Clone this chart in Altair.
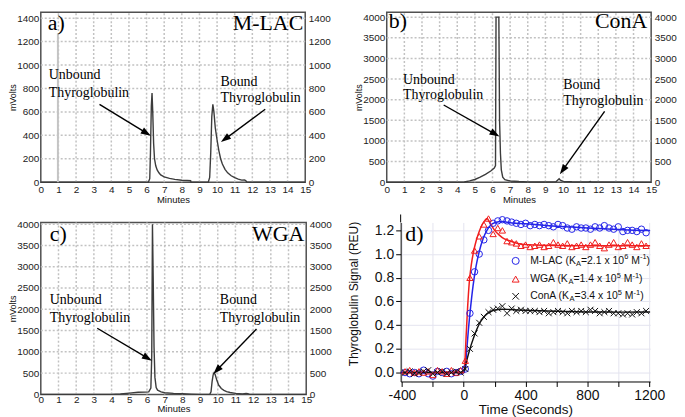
import math
import altair as alt
import pandas as pd

SANS = "Liberation Sans"
SERIF = "Liberation Serif"

# ---------------- chromatogram traces (minutes, mVolts) ----------------
mlac_min = [0, 6.1, 6.18, 6.22, 6.27, 6.31, 6.35, 6.4, 6.45, 6.52, 6.6, 6.7, 6.8, 7.0, 7.3, 7.6, 8.0, 8.3, 8.5, 8.52,
            9.5, 9.58, 9.64, 9.7, 9.76, 9.82, 9.9, 10.0, 10.1, 10.2, 10.3, 10.45, 10.6, 10.8, 11.0, 11.2, 11.4,
            11.55, 11.62, 11.7, 15]
mlac_mv = [0, 0, 30, 250, 650, 760, 600, 330, 200, 140, 105, 80, 62, 45, 32, 24, 17, 14, 12, 0,
           0, 40, 250, 560, 665, 600, 460, 360, 270, 200, 155, 110, 80, 55, 38, 26, 18,
           20, 14, 0, 0]

cona_min = [0, 4.0, 4.4, 4.7, 5.0, 5.3, 5.6, 5.9, 6.1, 6.17, 6.2, 6.36, 6.4, 6.45, 6.5, 6.58, 6.7, 7.0, 7.5, 8.0,
            9.0, 9.6, 9.72, 9.78, 9.85, 10.0, 10.5, 11.0, 11.45, 11.55, 11.65, 15]
cona_mv = [0, 0, 5, 30, 65, 120, 190, 270, 340, 400, 4000, 4000, 1500, 700, 300, 120, 60, 30, 15, 8,
           5, 10, 60, 85, 50, 20, 10, 5, 5, 15, 3, 0]

wga_min = [0, 4.0, 4.5, 5.0, 5.5, 5.9, 6.1, 6.22, 6.27, 6.31, 6.35, 6.4, 6.45, 6.52, 6.6, 6.8, 7.0, 7.5, 8.0, 8.5,
           9.0, 9.55, 9.62, 9.68, 9.74, 9.79, 9.85, 9.95, 10.05, 10.2, 10.35, 10.5, 10.7, 11.0, 11.4, 11.6, 11.7,
           11.8, 15]
wga_mv = [0, 0, 10, 30, 50, 55, 60, 150, 900, 4000, 2800, 1100, 400, 160, 100, 60, 40, 25, 15, 8,
          0, 0, 60, 300, 460, 505, 470, 330, 220, 140, 95, 65, 45, 25, 12, 20, 18,
          0, 0]

minute_ticks = list(range(16))

# ---------------- panel d: binding kinetics ----------------
time_s = [-380, -350, -320, -290, -260, -230, -200, -170, -140, -110, -80, -50, -20,
          10, 40, 70, 100, 130, 160, 190, 220, 250, 280, 310, 340, 370, 400,
          430, 460, 490, 520, 550, 580, 610, 640, 670, 700,
          730, 760, 790, 820, 850, 880, 910, 940, 970, 1000,
          1030, 1060, 1090, 1120, 1150, 1180]
mlac_sig = [0.00, -0.01, 0.00, -0.01, 0.02, -0.01, -0.03, 0.01, 0.00, 0.01, -0.01, 0.00, 0.01,
            0.03, 0.50, 0.85, 1.00, 1.12, 1.20, 1.26, 1.28, 1.29, 1.28, 1.27, 1.26, 1.25, 1.26,
            1.24, 1.25, 1.24, 1.25, 1.24, 1.23, 1.25, 1.24, 1.22, 1.21,
            1.23, 1.22, 1.22, 1.21, 1.23, 1.22, 1.24, 1.22, 1.21, 1.23,
            1.19, 1.20, 1.20, 1.19, 1.21, 1.18]
wga_sig = [0.01, 0.02, 0.00, 0.01, 0.00, 0.01, -0.02, 0.02, 0.01, -0.01, 0.02, 0.00, 0.02,
           0.10, 0.80, 1.03, 1.15, 1.25, 1.30, 1.17, 1.22, 1.20, 1.11, 1.10, 1.09, 1.07, 1.08,
           1.06, 1.07, 1.08, 1.06, 1.07, 1.10, 1.08, 1.07, 1.09, 1.06,
           1.07, 1.08, 1.06, 1.08, 1.10, 1.07, 1.05, 1.08, 1.10, 1.06,
           1.07, 1.10, 1.08, 1.06, 1.09, 1.07]
cona_sig = [0.00, 0.01, -0.01, 0.00, 0.01, 0.02, -0.01, 0.00, 0.01, -0.01, 0.00, 0.01, 0.00,
            0.03, 0.20, 0.33, 0.42, 0.47, 0.51, 0.53, 0.54, 0.56, 0.50, 0.54, 0.52, 0.53, 0.52,
            0.52, 0.52, 0.51, 0.52, 0.50, 0.51, 0.52, 0.51, 0.50, 0.52,
            0.51, 0.52, 0.51, 0.53, 0.52, 0.50, 0.51, 0.52, 0.50, 0.50,
            0.49, 0.50, 0.49, 0.51, 0.50, 0.52]

mlac_fit_t = [-408, 0, 10, 20, 30, 45, 60, 80, 100, 125, 150, 175, 200, 250, 300, 400, 500, 600, 700, 800,
              900, 1000, 1100, 1206]
mlac_fit_v = [0, 0, 0.05, 0.2, 0.36, 0.56, 0.73, 0.90, 1.02, 1.13, 1.20, 1.245, 1.265, 1.275, 1.265, 1.255,
              1.245, 1.235, 1.228, 1.22, 1.213, 1.207, 1.202, 1.198]
wga_fit_t = [-408, 0, 8, 15, 25, 35, 50, 65, 80, 100, 120, 140, 152, 160, 175, 200, 230, 260, 300, 350, 400,
             500, 600, 800, 1000, 1206]
wga_fit_v = [0, 0, 0.1, 0.3, 0.55, 0.75, 0.92, 1.03, 1.11, 1.19, 1.25, 1.29, 1.30, 1.285, 1.25, 1.20, 1.16,
             1.13, 1.11, 1.09, 1.08, 1.075, 1.072, 1.07, 1.07, 1.07]
cona_fit_t = [-408, 0, 10, 25, 40, 60, 80, 100, 125, 150, 175, 200, 250, 300, 400, 600, 800, 1000, 1206]
cona_fit_v = [0, 0, 0.05, 0.13, 0.2, 0.28, 0.35, 0.41, 0.46, 0.495, 0.515, 0.528, 0.535, 0.532, 0.525,
              0.518, 0.512, 0.51, 0.512]

legend_names = ["M-LAC", "WGA", "ConA"]
legend_ka = ["2.1", "1.4", "3.4"]
legend_exp = ["6", "5", "5"]

# Arial / Liberation Sans advance widths (1/1000 em) for legend layout
ARIAL = {" ": 278, "(": 333, ")": 333, "-": 333, ".": 278, "=": 584, "A": 667, "C": 722, "G": 778,
         "K": 667, "L": 556, "M": 833, "W": 944, "a": 556, "n": 556, "o": 556, "x": 500}
for d_ in "0123456789":
    ARIAL[d_] = 556


def text_w(s, fs):
    return sum(ARIAL.get(c, 556) for c in s) * fs / 1000.0


def chrom_panel(t, v, ydom, yvals, w, h, label, lab_xy, name, name_xy, notes, arrows, title_y, xpad,
                gray=None):
    xs = alt.Scale(domain=[0, 15], nice=False, zero=False)
    ys = alt.Scale(domain=ydom, nice=False, zero=False)
    kx = w / 15.0
    ky = h / (ydom[1] - ydom[0])
    df = pd.DataFrame({"t": t, "v": v})
    xaxis = alt.Axis(values=minute_ticks, title="Minutes", domain=False, ticks=False, grid=False,
                     labelPadding=xpad, labelFontSize=10, labelFlush=False, labelOverlap=False,
                     titleFontSize=9.5, titleY=title_y, titleBaseline="middle", labelColor="#222")
    yaxis_l = alt.Axis(values=yvals, format="d", title="mVolts", domain=False, ticks=False, grid=False,
                       labelPadding=2, labelFontSize=10, labelFlush=False, labelOverlap=False, titleFontSize=9,
                       titleX=-28, titleBaseline="middle", labelColor="#222")
    yaxis_r = alt.Axis(values=yvals, format="d", title=None, orient="right", grid=False, domain=False,
                       ticks=False, labelPadding=3, labelFontSize=10, labelFlush=False, labelOverlap=False,
                       labelColor="#222")
    layers = []
    # dotted grid at the tick positions
    vg = pd.DataFrame({"x": minute_ticks[1:-1], "y": [ydom[0]] * 14, "y2": [ydom[1]] * 14})
    hg = pd.DataFrame({"y": yvals[1:], "x": [0] * (len(yvals) - 1), "x2": [15] * (len(yvals) - 1)})
    layers.append(alt.Chart(vg).mark_rule(color="#c2c2c2", strokeWidth=1.5, strokeDash=[2, 2], opacity=1).encode(
        x=alt.X("x:Q", scale=xs, axis=None), y=alt.Y("y:Q", scale=ys, axis=None), y2="y2:Q"))
    layers.append(alt.Chart(hg).mark_rule(color="#c2c2c2", strokeWidth=1.5, strokeDash=[2, 2], opacity=1).encode(
        x=alt.X("x:Q", scale=xs, axis=None), x2="x2:Q", y=alt.Y("y:Q", scale=ys, axis=None)))
    layers.append(alt.Chart(df).mark_line(color="#3c3c3c", strokeWidth=1.4).encode(
        x=alt.X("t:Q", scale=xs, axis=xaxis), y=alt.Y("v:Q", scale=ys, axis=yaxis_l)))
    layers.append(alt.Chart(df).mark_line(opacity=0).encode(
        x=alt.X("t:Q", scale=xs, axis=None), y=alt.Y("v:Q", scale=ys, axis=yaxis_r)))
    if gray:
        gdf = pd.DataFrame({"x": [gray[0]], "y": [0], "y2": [gray[1]]})
        layers.append(alt.Chart(gdf).mark_rule(color="#c4c4c4", strokeWidth=2).encode(
            x=alt.X("x:Q", scale=xs, axis=None), y=alt.Y("y:Q", scale=ys, axis=None), y2="y2:Q"))
    ndf = pd.DataFrame({"x": [n[0] for n in notes], "y": [n[1] for n in notes], "s": [n[2] for n in notes]})
    layers.append(alt.Chart(ndf).mark_text(font=SERIF, fontSize=14, align="left", baseline="middle",
                                           color="black").encode(
        x=alt.X("x:Q", scale=xs, axis=None), y=alt.Y("y:Q", scale=ys, axis=None), text="s:N"))
    shafts, heads = [], []
    for (x0, y0, x1, y1) in arrows:
        dxp = (x1 - x0) * kx
        dyp = (y1 - y0) * ky
        L = math.hypot(dxp, dyp)
        ex = x1 - (dxp / L) * 5 / kx
        ey = y1 - (dyp / L) * 5 / ky
        shafts.append({"x": x0, "y": y0, "x2": ex, "y2": ey})
        ang = math.degrees(math.atan2(dxp, dyp)) % 360
        heads.append({"x": x1, "y": y1, "ang": ang})
    layers.append(alt.Chart(pd.DataFrame(shafts)).mark_rule(color="black", strokeWidth=1.4).encode(
        x=alt.X("x:Q", scale=xs, axis=None), y=alt.Y("y:Q", scale=ys, axis=None), x2="x2:Q", y2="y2:Q"))
    layers.append(alt.Chart(pd.DataFrame(heads)).mark_point(
        shape="M0,0L0.75,2.2L-0.75,2.2Z", filled=True, color="black", opacity=1, size=85).encode(
        x=alt.X("x:Q", scale=xs, axis=None), y=alt.Y("y:Q", scale=ys, axis=None),
        angle=alt.Angle("ang:Q", scale=None)))
    one = pd.DataFrame({"k": [0]})
    layers.append(alt.Chart(one).mark_text(font=SERIF, fontSize=22, align="left", baseline="middle",
                                           color="black").encode(
        x=alt.value(lab_xy[0]), y=alt.value(lab_xy[1]), text=alt.value(label)))
    layers.append(alt.Chart(one).mark_text(font=SERIF, fontSize=22, align="right", baseline="middle",
                                           color="black").encode(
        x=alt.value(name_xy[0]), y=alt.value(name_xy[1]), text=alt.value(name)))
    return alt.layer(*layers).resolve_axis(x="independent", y="independent").properties(width=w, height=h)


pa = chrom_panel(mlac_min, mlac_mv, [0, 1451], list(range(0, 1401, 200)), 266, 171, "a)", (7, 11),
                 "M-LAC", (264, 11),
                 [(0.45, 916, "Unbound"), (0.45, 763, "Thyroglobulin"),
                  (10.19, 857, "Bound"), (10.19, 715, "Thyroglobulin")],
                 [(3.33, 664, 6.24, 396), (12.73, 622, 10.22, 342)], 17, 2, gray=(0.97, 1270))
pb = chrom_panel(cona_min, cona_mv, [0, 4120], list(range(0, 4001, 500)), 266, 171, "b)", (2, 9),
                 "ConA", (262, 9),
                 [(0.92, 2480, "Unbound"), (0.92, 2110, "Thyroglobulin"),
                  (10.01, 2363, "Bound"), (10.01, 1973, "Thyroglobulin")],
                 [(3.23, 1871, 6.4, 1107), (12.36, 1715, 9.82, 195)], 17, 2)
pc = chrom_panel(wga_min, wga_mv, [0, 4040], list(range(0, 4001, 500)), 267, 173, "c)", (9, 12),
                 "WGA", (265, 12),
                 [(0.51, 2213, "Unbound"), (0.51, 1803, "Thyroglobulin"),
                  (10.12, 2213, "Bound"), (10.12, 1803, "Thyroglobulin")],
                 [(3.19, 1554, 6.28, 792), (12.19, 1537, 9.75, 482)], 14, 0)

# ---------------- panel d ----------------
DW, DH = 251, 160
dx_dom = [-408.4, 1206.4]
dy_dom = [-0.0755, 1.267]
kxd = DW / (dx_dom[1] - dx_dom[0])
kyd = DH / (dy_dom[1] - dy_dom[0])
dxs = alt.Scale(domain=dx_dom, nice=False, zero=False)
dys = alt.Scale(domain=dy_dom, nice=False, zero=False)


def px2t(px):
    return dx_dom[0] + px / kxd


def py2v(py):
    return dy_dom[1] - py / kyd


BLUE = "#2424e8"
RED = "#f01e1e"
BLACK = "#111111"

x_axis_d = alt.Axis(values=list(range(-400, 1201, 200)),
                    labelExpr="datum.value % 400 === 0 ? toString(datum.value) : ''",
                    title="Time (Seconds)", grid=True, gridColor="#e4e4ef", domainColor="black",
                    tickColor="black", tickSize=5, labelPadding=2, labelFontSize=14, labelFlush=False,
                    labelOverlap=False, titleFontSize=13.5, titleY=28, titleBaseline="middle",
                    labelColor="#111")
y_axis_d = alt.Axis(values=[0, 0.2, 0.4, 0.6, 0.8, 1.0, 1.2], format=".1f", title="Thyroglobulin Signal (REU)",
                    grid=True, gridColor="#e4e4ef", domainColor="black", tickColor="black", tickSize=5,
                    labelPadding=2, labelFontSize=14, labelFlush=False, labelOverlap=False, titleFontSize=12,
                    titleX=-47, titleY=71.5, titleBaseline="middle", labelColor="#111")

fits = [(mlac_fit_t, mlac_fit_v, BLUE), (wga_fit_t, wga_fit_v, RED), (cona_fit_t, cona_fit_v, BLACK)]
d_layers = []
for i, (ft, fv, col) in enumerate(fits):
    fdf = pd.DataFrame({"t": ft, "v": fv})
    d_layers.append(alt.Chart(fdf).mark_line(color=col, strokeWidth=1.5, interpolate="monotone").encode(
        x=alt.X("t:Q", scale=dxs, axis=x_axis_d if i == 0 else None),
        y=alt.Y("v:Q", scale=dys, axis=y_axis_d if i == 0 else None)))

XPATH = "M-1,-1L1,1M1,-1L-1,1"
pts = [(mlac_sig, BLUE, "circle", 42), (wga_sig, RED, "triangle-up", 40), (cona_sig, BLACK, XPATH, 36)]
for sig, col, shp, sz in pts:
    pdf = pd.DataFrame({"t": time_s, "v": sig})
    d_layers.append(alt.Chart(pdf).mark_point(shape=shp, filled=False, color=col, size=sz, strokeWidth=1,
                                              opacity=1).encode(
        x=alt.X("t:Q", scale=dxs, axis=None), y=alt.Y("v:Q", scale=dys, axis=None)))

# legend (custom, with sub/superscripts)
leg_rows_y = [38.7, 57.0, 74.3]
sym_x = 115.7
for (sig, col, shp, sz), ry in zip(pts, leg_rows_y):
    ldf = pd.DataFrame({"t": [px2t(sym_x)], "v": [py2v(ry)]})
    d_layers.append(alt.Chart(ldf).mark_point(shape=shp, filled=False, color=col, size=sz + 8, strokeWidth=1,
                                              opacity=1).encode(
        x=alt.X("t:Q", scale=dxs, axis=None), y=alt.Y("v:Q", scale=dys, axis=None)))

MAIN, SMALL = 10.5, 7.5
pieces = []
for nm, ka, ex, ry in zip(legend_names, legend_ka, legend_exp, leg_rows_y):
    segs = [(nm + " (K", "main", False), ("A", "sub", False), ("=" + ka + " x 10", "main", False),
            (ex, "sup", False), ("M", "main", True), ("-1", "sup", False), (")", "main", False)]
    x = 130.3
    for txt, kind, lead in segs:
        fs = MAIN if kind == "main" else SMALL
        if lead:
            x += text_w(" ", MAIN)
        dy = 0 if kind == "main" else (2.8 if kind == "sub" else -3.6)
        pieces.append({"t": px2t(x), "v": py2v(ry + dy), "s": txt, "fs": fs})
        x += text_w(txt, fs)
d_layers.append(alt.Chart(pd.DataFrame(pieces)).mark_text(font=SANS, align="left", baseline="middle",
                                                          color="#111").encode(
    x=alt.X("t:Q", scale=dxs, axis=None), y=alt.Y("v:Q", scale=dys, axis=None), text="s:N",
    size=alt.Size("fs:Q", scale=None)))

one = pd.DataFrame({"k": [0]})
d_layers.append(alt.Chart(one).mark_rule(color="black", strokeWidth=1).encode(
    x=alt.value(0), y=alt.value(-8), y2=alt.value(0)))
d_layers.append(alt.Chart(one).mark_text(font=SERIF, fontSize=22, align="left", baseline="middle",
                                         color="black").encode(
    x=alt.value(4.7), y=alt.value(12), text=alt.value("d)")))

pd_chart = alt.layer(*d_layers).resolve_axis(x="independent", y="independent").properties(
    width=DW, height=DH, view=alt.ViewBackground(strokeWidth=0))

row1 = alt.hconcat(pa, pb, spacing=82, bounds="flush")
row2 = alt.hconcat(pc, pd_chart, spacing=95, bounds="flush")

chart = alt.vconcat(row1, row2, spacing=8.5).properties(
    padding={"left": 0, "top": 0, "right": 0, "bottom": 0}
).configure_view(stroke="#505050", strokeWidth=1.5).configure_axis(
    labelFont=SANS, titleFont=SANS, titleFontWeight="normal", titleColor="#111"
)

chart.save("out.html", embed_options={"renderer": "svg", "actions": False})
